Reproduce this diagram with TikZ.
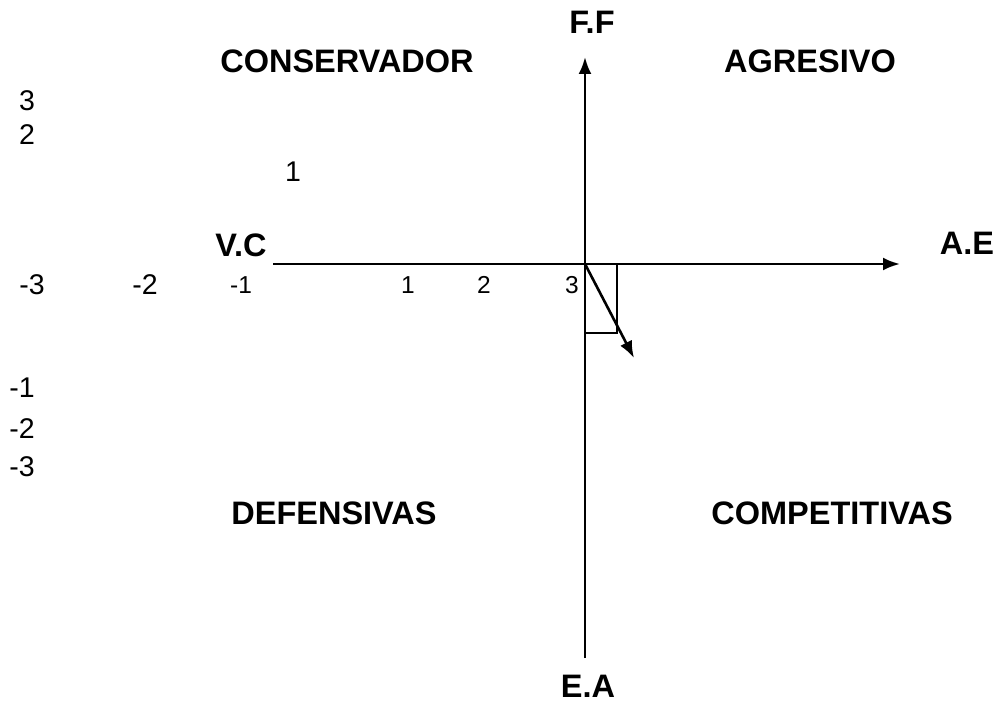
\documentclass[tikz,border=0pt]{standalone}
\usepackage{fontspec}
\setmainfont{Liberation Sans}
\usetikzlibrary{arrows.meta}
\tikzset{
  quad/.style={font=\fontsize{32.5}{38}\selectfont\bfseries, inner sep=0pt, text height=23.3pt, text depth=0pt},
  num/.style={font=\fontsize{28.5}{34}\selectfont, inner sep=0pt, text height=20.4pt, text depth=0pt},
  snum/.style={font=\fontsize{24.5}{30}\selectfont, inner sep=0pt, text height=17.5pt, text depth=0pt},
  axis/.style={line width=2.6pt, -{Latex[length=17pt,width=13pt]}},
  vec/.style={line width=2.6pt, -{Latex[length=17pt,width=13pt]}},
  box/.style={line width=1.4pt}
}
\begin{document}
\begin{tikzpicture}[x=1pt,y=-1pt]
\useasboundingbox (0,0) rectangle (997,709);
\coordinate (O) at (585,264);
\coordinate (top) at (585,57);
\coordinate (bot) at (585,658);
\coordinate (left) at (273,264);
\coordinate (right) at (900,264);
\coordinate (tip) at (634,358);
\coordinate (b1) at (617,264);
\coordinate (b2) at (617,333);
\coordinate (b3) at (585,333);
\draw[axis] (bot) -- (top);
\draw[axis] (left) -- (right);
\draw[box] (O) -- (b1) -- (b2) -- (b3);
\draw[vec] (O) -- (tip);
\node[quad] (ff) at (592,22) {F.F};
\node[quad] (ea) at (588,686) {E.A};
\node[quad] (vc) at (241,245) {V.C};
\node[quad] (ae) at (967,243) {A.E};
\node[quad] (cons) at (347,61) {CONSERVADOR};
\node[quad] (agr) at (810,61) {AGRESIVO};
\node[quad] (def) at (334,513) {DEFENSIVAS};
\node[quad] (comp) at (832,513) {COMPETITIVAS};
\node[num] (y3) at (27,100) {3};
\node[num] (y2) at (27,134) {2};
\node[num] (y1) at (293,171) {1};
\node[num] (ym1) at (22,387) {-1};
\node[num] (ym2) at (22,428) {-2};
\node[num] (ym3) at (22,466) {-3};
\node[num] (xm3) at (32,284) {-3};
\node[num] (xm2) at (145,284) {-2};
\node[snum] (xm1) at (241,285) {-1};
\node[snum] (x1) at (408,285) {1};
\node[snum] (x2) at (484,285) {2};
\node[snum] (x3) at (572,285) {3};
\end{tikzpicture}
\end{document}
